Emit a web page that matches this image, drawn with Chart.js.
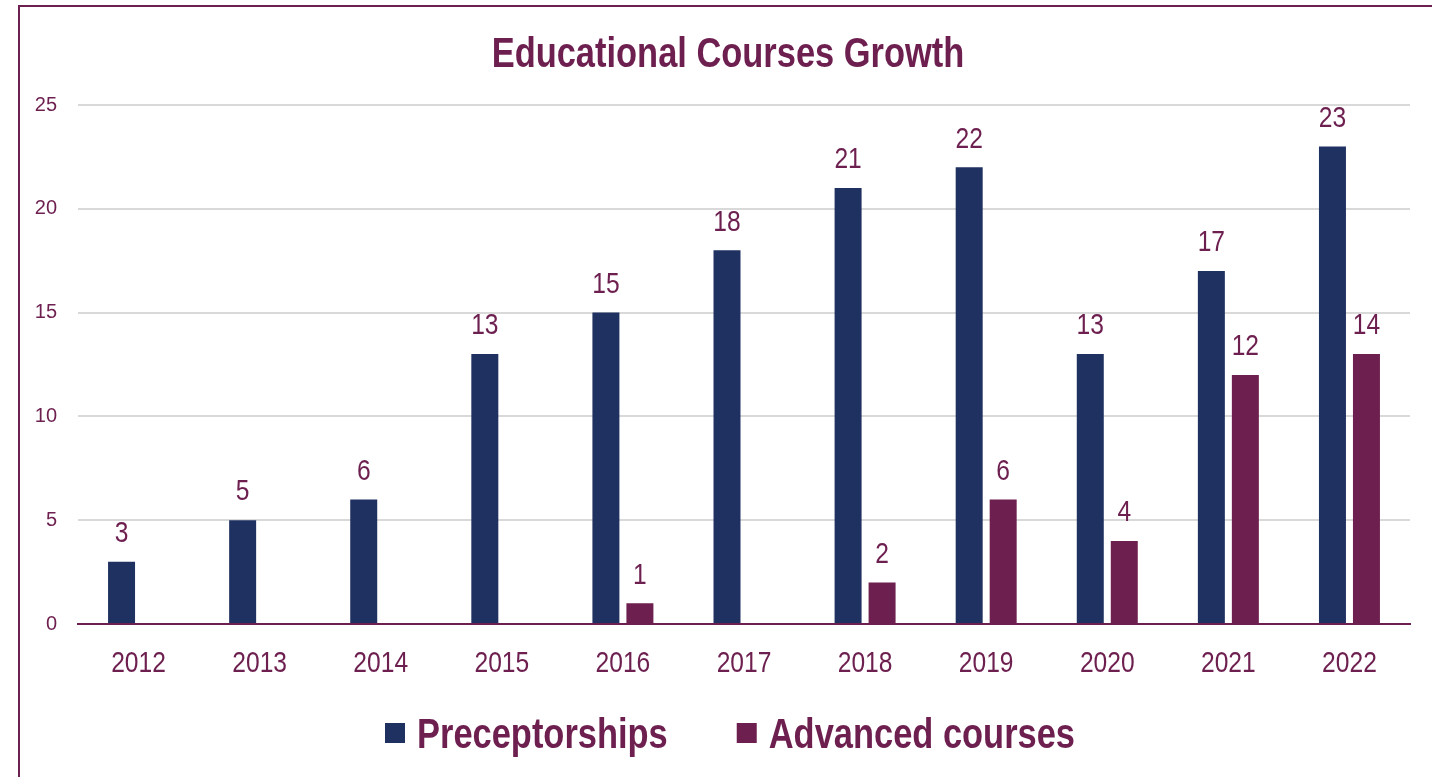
<!DOCTYPE html>
<html>
<head>
<meta charset="utf-8">
<script src="https://cdn.jsdelivr.net/npm/chart.js@4.4.1/dist/chart.umd.min.js"></script>
<style>
  html, body { margin: 0; padding: 0; background: #fff; }
  #wrap { position: relative; width: 1432px; height: 777px; overflow: hidden; }
  #frame { position: absolute; left: 18px; top: 5px; width: 1500px; height: 900px; border: 2px solid #6d1f4f; box-sizing: border-box; }
  canvas { position: absolute; left: 0; top: 0; }
</style>
</head>
<body>
<div id="wrap">
  <div id="frame"></div>
  <canvas id="chart" width="1432" height="777"></canvas>
</div>
<script>
const years = ['2012', '2013', '2014', '2015', '2016', '2017', '2018', '2019', '2020', '2021', '2022'];
const preceptorships = [3, 5, 6, 13, 15, 18, 21, 22, 13, 17, 23];
const advancedCourses = [0, 0, 0, 0, 1, 0, 2, 6, 4, 12, 13];
// labels as printed on the original (last one reads 14)
const preceptorLabels = ['3', '5', '6', '13', '15', '18', '21', '22', '13', '17', '23'];
const advancedLabels = ['', '', '', '', '1', '', '2', '6', '4', '12', '14'];
const yTicks = [0, 5, 10, 15, 20, 25];

const NAVY = '#1f3160';
const MAROON = '#6d1f4f';
// no narrow font installed: text in this family gets squeezed horizontally
const NARROW = "'Arial Narrow', 'Liberation Sans', sans-serif";
const REGULAR = "'Liberation Sans', Arial, sans-serif";
const SQUEEZE = 0.82;

const canvas = document.getElementById('chart');
const c2d = canvas.getContext('2d');
const origFill = c2d.fillText;
const origMeasure = c2d.measureText;
c2d.fillText = function(text, x, y, maxWidth) {
    if (this.font.indexOf('Arial Narrow') < 0) return origFill.call(this, text, x, y, maxWidth);
    this.save();
    this.translate(x, y);
    this.scale(SQUEEZE, 1);
    origFill.call(this, text, 0, 0);
    this.restore();
};
c2d.measureText = function(text) {
    const m = origMeasure.call(this, text);
    if (this.font.indexOf('Arial Narrow') < 0) return m;
    return {
        width: m.width * SQUEEZE,
        actualBoundingBoxLeft: m.actualBoundingBoxLeft * SQUEEZE,
        actualBoundingBoxRight: m.actualBoundingBoxRight * SQUEEZE,
        actualBoundingBoxAscent: m.actualBoundingBoxAscent,
        actualBoundingBoxDescent: m.actualBoundingBoxDescent
    };
};

const barLabels = {
    id: 'barLabels',
    afterDatasetsDraw(chart) {
        const ctx = chart.ctx;
        const texts = [preceptorLabels, advancedLabels];
        ctx.save();
        ctx.fillStyle = MAROON;
        ctx.font = '30px ' + NARROW;
        ctx.textAlign = 'center';
        ctx.textBaseline = 'bottom';
        chart.data.datasets.forEach(function(ds, i) {
            chart.getDatasetMeta(i).data.forEach(function(bar, j) {
                const t = texts[i][j];
                if (t) ctx.fillText(t, bar.x, bar.y - 13);
            });
        });
        ctx.restore();
    }
};

// title and legend drawn by hand so spacing can follow the original
const titleLegend = {
    id: 'titleLegend',
    afterDraw(chart) {
        const ctx = chart.ctx;
        ctx.save();
        ctx.fillStyle = MAROON;
        ctx.textBaseline = 'alphabetic';
        ctx.font = 'bold 42px ' + NARROW;
        ctx.textAlign = 'center';
        ctx.fillText('Educational Courses Growth', 728, 67);

        const box = 20, gap = 12, itemGap = 69;
        const items = chart.data.datasets.map(function(ds) {
            return { text: ds.label, color: ds.backgroundColor, w: ctx.measureText(ds.label).width };
        });
        let total = 0;
        items.forEach(function(it, i) { total += box + gap + it.w + (i ? itemGap : 0); });
        let x = 730 - total / 2;
        ctx.textAlign = 'left';
        items.forEach(function(it) {
            ctx.fillStyle = it.color;
            ctx.fillRect(x, 723, box, box);
            ctx.fillStyle = MAROON;
            ctx.fillText(it.text, x + box + gap, 748);
            x += box + gap + it.w + itemGap;
        });
        ctx.restore();
    }
};

document.addEventListener('DOMContentLoaded', function(){
    new Chart(canvas, {
        type: 'bar',
        data: {
            labels: years,
            datasets: [{
                label: 'Preceptorships',
                data: preceptorships,
                backgroundColor: NAVY,
                categoryPercentage: 0.5615,
                barPercentage: 0.794
            }, {
                label: 'Advanced courses',
                data: advancedCourses,
                backgroundColor: MAROON,
                categoryPercentage: 0.5615,
                barPercentage: 0.794
            }]
        },
        plugins: [barLabels, titleLegend],
        options: {
            responsive: false,
            animation: false,
            layout: {
                padding: { top: 105, right: 22, left: 0, bottom: 81 }
            },
            plugins: {
                title: { display: false },
                legend: { display: false },
                tooltip: { enabled: false }
            },
            scales: {
                x: {
                    grid: { display: false },
                    border: { display: true, color: MAROON, width: 2 },
                    ticks: {
                        color: MAROON,
                        font: { family: NARROW, size: 30 },
                        padding: 14
                    }
                },
                y: {
                    min: 0,
                    max: 25,
                    afterFit: function(scale) { scale.width = 78; },
                    afterBuildTicks: function(scale) {
                        scale.ticks = yTicks.map(function(v) { return { value: v }; });
                    },
                    grid: { color: '#d9d9d9', lineWidth: 2, drawTicks: false },
                    border: { display: false },
                    ticks: {
                        color: MAROON,
                        font: { family: REGULAR, size: 20 },
                        padding: 21
                    }
                }
            }
        }
    });
});
</script>
</body>
</html>
